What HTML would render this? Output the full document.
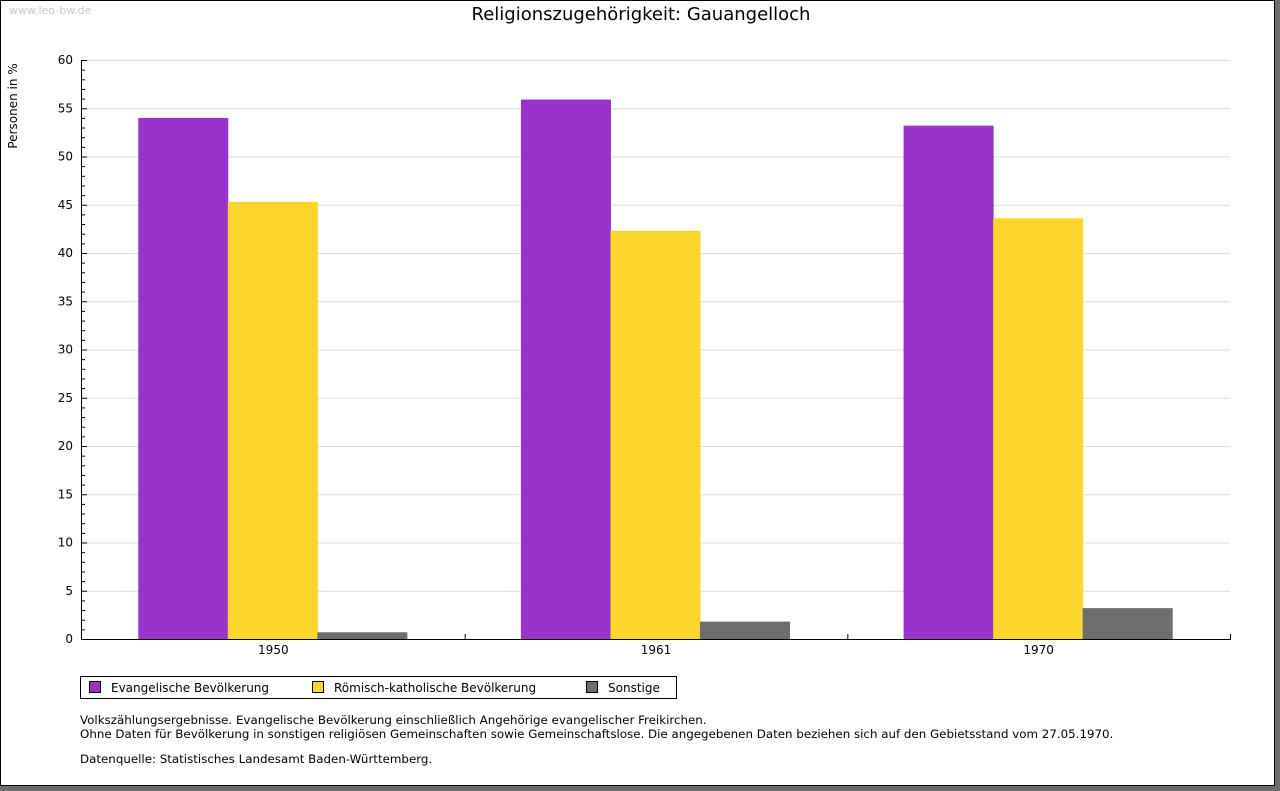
<!DOCTYPE html>
<html><head><meta charset="utf-8"><style>
html,body{margin:0;padding:0;width:1280px;height:791px;overflow:hidden;background:#6e6e6e;font-family:"DejaVu Sans","Liberation Sans",sans-serif;}
#frame{position:absolute;left:0;top:0;width:1273px;height:784px;background:#fff;border:1px solid #000;}
.t{position:absolute;white-space:nowrap;color:#000;}
</style></head><body>
<div id="frame">
<div class="t" style="left:8px;top:3px;font-size:11px;color:#c8c8c8;">www.leo-bw.de</div>
<div class="t" style="left:0;width:1280px;text-align:center;top:3px;font-size:18px;">Religionszugehörigkeit: Gauangelloch</div>
<svg id="chart" width="1280" height="791" style="position:absolute;left:-1px;top:-1px"></svg>
<div style="position:absolute;left:79px;top:675px;width:595px;height:21px;border:1px solid #000;font-size:12px;">
 <div class="t" style="left:8px;top:4px;"><span style="display:inline-block;width:10px;height:10px;background:#9933cc;border:1px solid #000;vertical-align:-1px;margin-right:10px"></span>Evangelische Bevölkerung</div>
 <div class="t" style="left:231px;top:4px;"><span style="display:inline-block;width:10px;height:10px;background:#fcd52d;border:1px solid #000;vertical-align:-1px;margin-right:10px"></span>Römisch-katholische Bevölkerung</div>
 <div class="t" style="left:505px;top:4px;"><span style="display:inline-block;width:10px;height:10px;background:#6e6e6e;border:1px solid #000;vertical-align:-1px;margin-right:10px"></span>Sonstige</div>
</div>
<div class="t" style="left:79px;top:712px;font-size:11.85px;line-height:14px;">Volkszählungsergebnisse. Evangelische Bevölkerung einschließlich Angehörige evangelischer Freikirchen.<br>Ohne Daten für Bevölkerung in sonstigen religiösen Gemeinschaften sowie Gemeinschaftslose. Die angegebenen Daten beziehen sich auf den Gebietsstand vom 27.05.1970.</div>
<div class="t" style="left:79px;top:751px;font-size:11.85px;">Datenquelle: Statistisches Landesamt Baden-Württemberg.</div>
</div>
<script>
const categories=["1950","1961","1970"];
const evangelisch=[54.0,55.9,53.2];
const katholisch=[45.3,42.3,43.6];
const sonstige=[0.7,1.8,3.2];
const yTicks=[0,5,10,15,20,25,30,35,40,45,50,55,60];
const seriesColors=["#9933cc","#fcd52d","#6e6e6e"];
const NS="http://www.w3.org/2000/svg";
const svg=document.getElementById('chart');
const X0=82,X1=1230,Y0=639,Y1=60,YMAX=60;
const y=v=>Y0-(v/YMAX)*(Y0-Y1);
const catW=(X1-X0)/categories.length;
function mk(tag,attrs,parent){const e=document.createElementNS(NS,tag);for(const k in attrs)e.setAttribute(k,attrs[k]);(parent||svg).appendChild(e);return e;}
yTicks.forEach(v=>{
 if(v>0){const g=mk('line',{x1:X0,x2:X1,y1:y(v)+0.5,y2:y(v)+0.5,stroke:'#dcdcdc'});
 
 }
 const t=mk('line',{x1:X0,x2:X0+5,y1:y(v)+0.5,y2:y(v)+0.5,stroke:'#000'});
 
 
 const l=mk('text',{x:X0-9,y:y(v)+4,'text-anchor':'end','font-size':12,'font-family':'DejaVu Sans, sans-serif'});
 l.textContent=v;
 
 
});
for(let v=0;v<YMAX;v++){if(v%5){const m=mk('line',{x1:X0,x2:X0+3,y1:y(v)+0.5,y2:y(v)+0.5,stroke:'#000'});
 
 }}
const series=[evangelisch,katholisch,sonstige];
const bw=catW*0.234,off=catW*0.147;
categories.forEach((c,i)=>{
 series.forEach((s,j)=>{
  const bx=X0+i*catW+off+j*bw;
  const r=mk('rect',{x:bx,y:y(s[i]),width:bw+0.5,height:Y0-y(s[i]),fill:seriesColors[j]});
  
  
 });
 const lab=mk('text',{x:X0+(i+0.5)*catW,y:Y0+15,'text-anchor':'middle','font-size':12,'font-family':'DejaVu Sans, sans-serif'});
 lab.textContent=c;
 
 
 const tk=mk('line',{x1:X0+(i+1)*catW+0.5,x2:X0+(i+1)*catW+0.5,y1:Y0-5,y2:Y0,stroke:'#000'});
 
 
});
const ya=mk('line',{x1:X0-0.5,x2:X0-0.5,y1:Y1,y2:Y0+1,stroke:'#000'});


const xa=mk('line',{x1:X0-1,x2:X1+1,y1:Y0+0.5,y2:Y0+0.5,stroke:'#000'});


const yt=mk('text',{x:0,y:0,'font-size':12,'font-family':'DejaVu Sans, sans-serif','text-anchor':'middle',transform:'translate(17,106) rotate(-90)'});
yt.textContent='Personen in %';


</script>
</body></html>
